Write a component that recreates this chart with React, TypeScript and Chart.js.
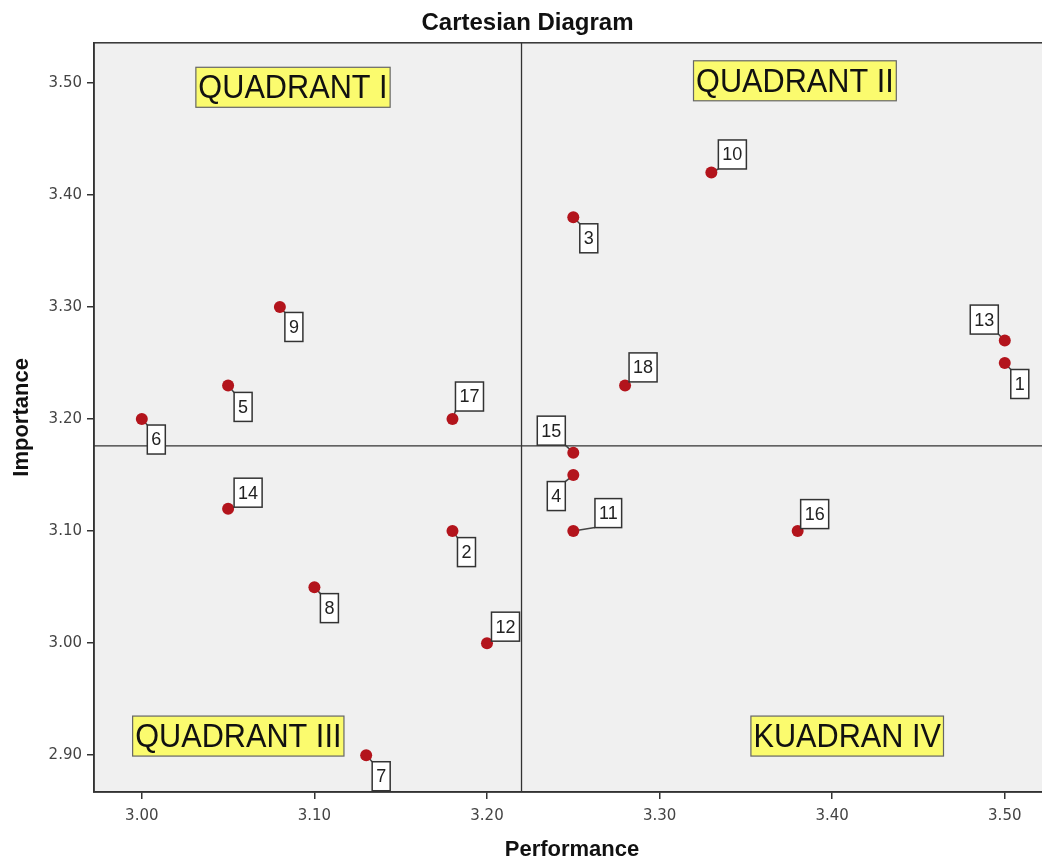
import React, { useEffect, useRef } from "react";
import { Chart, registerables } from "chart.js";

Chart.register(...registerables);

// ---- data ----
const ids = ["1", "2", "3", "4", "5", "6", "7", "8", "9", "10", "11", "12", "13", "14", "15", "16", "17", "18"];
const performance = [3.5, 3.18, 3.25, 3.25, 3.05, 3.0, 3.13, 3.1, 3.08, 3.33, 3.25, 3.2, 3.5, 3.05, 3.25, 3.38, 3.18, 3.28];
const importance = [3.25, 3.1, 3.38, 3.15, 3.23, 3.2, 2.9, 3.05, 3.3, 3.42, 3.1, 3.0, 3.27, 3.12, 3.17, 3.1, 3.2, 3.23];
const xTicks = [3.0, 3.1, 3.2, 3.3, 3.4, 3.5];
const yTicks = [2.9, 3.0, 3.1, 3.2, 3.3, 3.4, 3.5];
const refPerformance = 3.22; // mean performance
const refImportance = 3.176; // mean importance
const quadrantTexts = ["QUADRANT I", "QUADRANT II", "QUADRANT III", "KUADRAN IV"];
const quadrantX = [3.0876, 3.3784, 3.0559, 3.4087];
const quadrantY = [3.496, 3.5018, 2.9171, 2.9171];

// label placement (pixel offsets of label box centre from point)
const labelDX = [15, 14, 15.5, -17, 15, 14.5, 15, 15, 14, 21, 35, 18.5, -20.5, 20, -22, 17, 17, 18];
const labelDY = [21, 21, 21, 21, 21.5, 20.5, 21, 21, 20, -18, -18, -16.5, -21, -16, -22, -17, -22.5, -18];

const quadPlugin = {
  id: "quadPlugin",
  beforeDraw(chart: any) {
    const { ctx, chartArea: a } = chart;
    ctx.save();
    ctx.fillStyle = "#f0f0f0";
    ctx.fillRect(a.left, a.top, a.right - a.left, a.bottom - a.top);
    ctx.restore();
  },
  beforeDatasetsDraw(chart: any) {
    const { ctx, chartArea: a, scales } = chart;
    const x = scales.x;
    const y = scales.y;
    ctx.save();
    // frame
    ctx.strokeStyle = "#333";
    ctx.lineWidth = 1.5;
    ctx.strokeRect(a.left, a.top, a.right - a.left, a.bottom - a.top);
    // reference lines
    const rx = x.getPixelForValue(refPerformance);
    const ry = y.getPixelForValue(refImportance);
    ctx.strokeStyle = "#333";
    ctx.lineWidth = 1.3;
    ctx.beginPath();
    ctx.moveTo(rx, a.top);
    ctx.lineTo(rx, a.bottom);
    ctx.moveTo(a.left, ry);
    ctx.lineTo(a.right, ry);
    ctx.stroke();
    // leader lines
    ctx.font = "18px 'Liberation Sans', Arial, sans-serif";
    ctx.strokeStyle = "#444";
    ctx.lineWidth = 1.5;
    for (let i = 0; i < ids.length; i++) {
      const px = x.getPixelForValue(performance[i]);
      const py = y.getPixelForValue(importance[i]);
      const w = ctx.measureText(ids[i]).width + 8;
      const h = 29;
      const cx = px + labelDX[i];
      const cy = py + labelDY[i];
      const ex = labelDX[i] > 0 ? cx - w / 2 : cx + w / 2;
      const ey = labelDY[i] > 0 ? cy - h / 2 : cy + h / 2;
      ctx.beginPath();
      ctx.moveTo(px, py);
      ctx.lineTo(ex, ey);
      ctx.stroke();
    }
    ctx.restore();
  },
  afterDatasetsDraw(chart: any) {
    const { ctx, chartArea: a, scales } = chart;
    const x = scales.x;
    const y = scales.y;
    ctx.save();
    ctx.beginPath();
    ctx.rect(a.left, a.top, a.right - a.left, a.bottom - a.top);
    ctx.clip();
    // point labels
    ctx.font = "18px 'Liberation Sans', Arial, sans-serif";
    ctx.textAlign = "center";
    ctx.textBaseline = "middle";
    for (let i = 0; i < ids.length; i++) {
      const px = x.getPixelForValue(performance[i]);
      const py = y.getPixelForValue(importance[i]);
      const w = ctx.measureText(ids[i]).width + 8;
      const h = 29;
      const cx = px + labelDX[i];
      const cy = py + labelDY[i];
      ctx.fillStyle = "#ffffff";
      ctx.fillRect(cx - w / 2, cy - h / 2, w, h);
      ctx.strokeStyle = "#333";
      ctx.lineWidth = 1.5;
      ctx.strokeRect(cx - w / 2, cy - h / 2, w, h);
      ctx.fillStyle = "#222";
      ctx.fillText(ids[i], cx, cy + 1);
    }
    // quadrant labels
    const sx = 0.93;
    ctx.font = "33px 'Liberation Sans', Arial, sans-serif";
    for (let i = 0; i < quadrantTexts.length; i++) {
      const cx = x.getPixelForValue(quadrantX[i]);
      const cy = y.getPixelForValue(quadrantY[i]);
      const tw = ctx.measureText(quadrantTexts[i]).width * sx;
      const w = tw + 5;
      const h = 40;
      ctx.fillStyle = "#fbfb6e";
      ctx.fillRect(cx - w / 2, cy - h / 2, w, h);
      ctx.strokeStyle = "#666";
      ctx.lineWidth = 1.2;
      ctx.strokeRect(cx - w / 2, cy - h / 2, w, h);
      ctx.save();
      ctx.translate(cx, cy + 2);
      ctx.scale(sx, 1);
      ctx.fillStyle = "#111";
      ctx.fillText(quadrantTexts[i], 0, 0);
      ctx.restore();
    }
    ctx.restore();
  },
};

export default function App() {
  const ref = useRef<HTMLCanvasElement | null>(null);
  useEffect(() => {
    if (!ref.current) return;
    const chart = new Chart(ref.current, {
      type: "scatter",
      data: {
        datasets: [
          {
            data: performance.map((p, i) => ({ x: p, y: importance[i] })),
            backgroundColor: "#b3141c",
            borderColor: "#b3141c",
            borderWidth: 0,
            pointRadius: 6,
            pointHoverRadius: 6,
          },
        ],
      },
      options: {
        responsive: false,
        animation: false,
        layout: { padding: { left: 0, right: 1, top: 0, bottom: 0 } },
        plugins: {
          legend: { display: false },
          tooltip: { enabled: false },
          title: {
            display: true,
            text: "Cartesian Diagram",
            color: "#111",
            font: { family: "'Liberation Sans', Arial, sans-serif", size: 24, weight: "bold" },
            padding: { top: 9, bottom: 5 },
          },
        },
        scales: {
          x: {
            type: "linear",
            min: 2.9723,
            max: 3.5262,
            afterBuildTicks: (s: any) => {
              s.ticks = xTicks.map((v) => ({ value: v }));
            },
            afterFit: (s: any) => {
              s.height = 69;
            },
            ticks: {
              callback: (v: any) => Number(v).toFixed(2),
              font: { family: "'DejaVu Sans', sans-serif", size: 15 },
              color: "#444",
              padding: 8,
              autoSkip: false,
              maxRotation: 0,
            },
            grid: { drawOnChartArea: false, drawTicks: true, tickLength: 7, color: "#333", lineWidth: 1.5 },
            border: { display: true, color: "#333", width: 1.5 },
            title: {
              display: true,
              text: "Performance",
              color: "#111",
              font: { family: "'Liberation Sans', Arial, sans-serif", size: 22, weight: "bold", lineHeight: 1 },
              padding: { top: 0, bottom: 0 },
            },
          },
          y: {
            type: "linear",
            min: 2.8672,
            max: 3.5357,
            afterBuildTicks: (s: any) => {
              s.ticks = yTicks.map((v) => ({ value: v }));
            },
            afterFit: (s: any) => {
              s.width = 94;
            },
            ticks: {
              callback: (v: any) => Number(v).toFixed(2),
              font: { family: "'DejaVu Sans', sans-serif", size: 15 },
              color: "#444",
              padding: 5,
              autoSkip: false,
            },
            grid: { drawOnChartArea: false, drawTicks: true, tickLength: 7, color: "#333", lineWidth: 1.5 },
            border: { display: true, color: "#333", width: 1.5 },
            title: {
              display: true,
              text: "Importance",
              color: "#111",
              font: { family: "'Liberation Sans', Arial, sans-serif", size: 22, weight: "bold", lineHeight: 1.2 },
              padding: { top: 9, bottom: 0 },
            },
          },
        },
      },
      plugins: [quadPlugin],
    } as any);
    return () => chart.destroy();
  }, []);
  return (
    <div style={{ position: "absolute", left: 0, top: 0, width: 1042, height: 861, overflow: "hidden", background: "#fff" }}>
      <canvas ref={ref} width={1056} height={861} style={{ display: "block" }} />
    </div>
  );
}
